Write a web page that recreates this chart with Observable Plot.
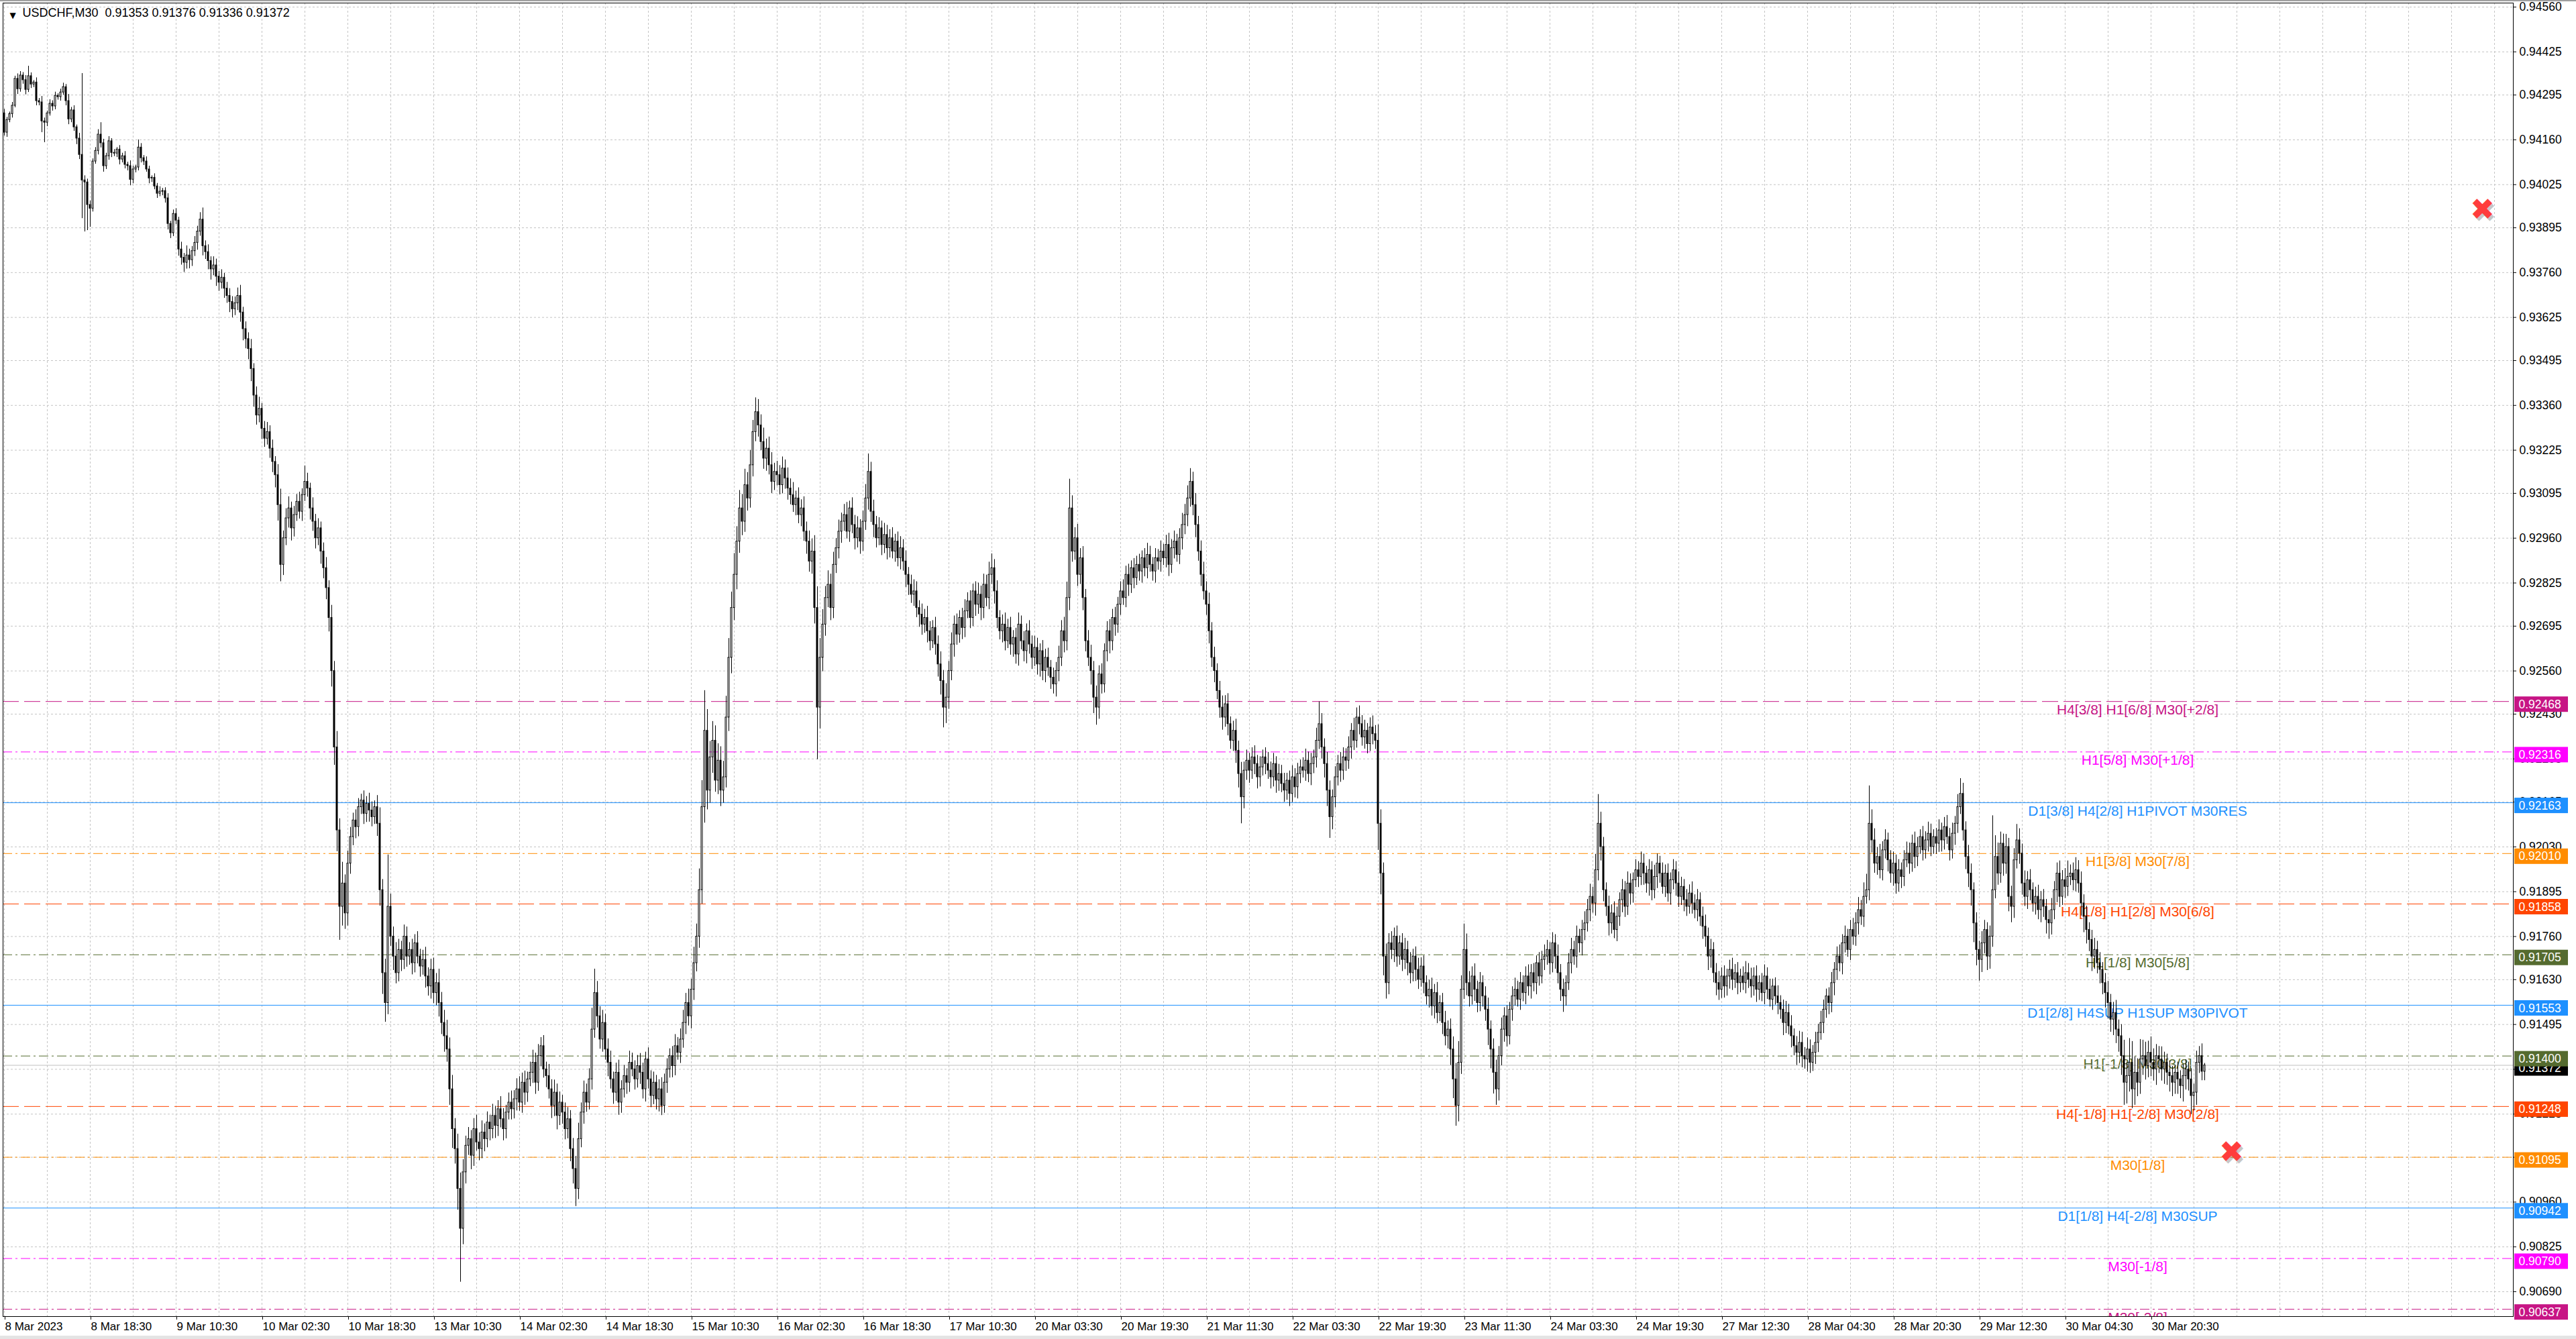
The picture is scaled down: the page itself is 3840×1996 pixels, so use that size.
<!DOCTYPE html>
<html><head><meta charset="utf-8">
<script src="https://cdn.jsdelivr.net/npm/d3@7"></script>
<script src="https://cdn.jsdelivr.net/npm/@observablehq/plot@0.6"></script>
<style>
html,body{margin:0;padding:0;background:#fff;}
#wrap{position:relative;width:3840px;height:1996px;overflow:hidden;background:#fff;}
#wrap svg{position:absolute;left:0;top:0;}
#topline{position:absolute;left:0;top:0;width:3840px;height:2px;background:#a0a0a0;z-index:2;}
#botline{position:absolute;left:0;top:1991px;width:3840px;height:5px;background:#e4e4e4;z-index:2;}
</style></head>
<body><div id="wrap"><div id="topline"></div><div id="botline"></div></div>
<script>
// ---------------- DATA ----------------
const symbolTitle = "USDCHF,M30  0.91353 0.91376 0.91336 0.91372";
const priceBase = 0.9;          // prices below are in points (0.00001) above this base
const pointSize = 0.00001;
const firstOpen = 4240;

const closes = [
4182,4220,4238,4263,4344,4313,4354,4340,4311,4352,
4327,4333,4277,4273,4216,4212,4240,4269,4261,4293,
4289,4303,4319,4277,4222,4249,4198,4164,4115,4038,
4032,3964,3953,4095,4127,4176,4150,4081,4111,4156,
4121,4119,4131,4101,4111,4085,4081,4040,4071,4077,
4137,4105,4095,4071,4044,4046,4020,3998,4004,4006,
3984,3907,3879,3937,3917,3830,3805,3790,3812,3798,
3825,3850,3884,3920,3840,3822,3795,3770,3782,3748,
3730,3745,3712,3690,3672,3650,3668,3690,3640,3590,
3560,3530,3470,3390,3330,3350,3290,3260,3280,3230,
3190,3150,3060,2880,2960,3020,3050,2990,3030,3070,
3040,3090,3130,3110,3050,3010,2960,2990,2920,2870,
2810,2720,2560,2330,2080,1850,1920,1830,1980,2060,
2110,2090,2150,2170,2130,2160,2140,2120,2150,2100,
1900,1650,1560,1850,1760,1700,1650,1720,1690,1760,
1700,1720,1680,1740,1700,1670,1690,1640,1610,1660,
1590,1620,1560,1500,1460,1420,1300,1180,1120,1000,
880,1050,1130,1150,1100,1180,1140,1120,1170,1150,
1200,1180,1220,1190,1240,1210,1180,1230,1260,1240,
1270,1300,1260,1320,1290,1330,1350,1380,1320,1400,
1430,1360,1340,1300,1250,1290,1220,1260,1230,1180,
1210,1120,1060,1000,1150,1230,1290,1260,1330,1480,
1590,1520,1450,1500,1420,1380,1330,1290,1350,1260,
1300,1340,1320,1380,1360,1330,1370,1350,1300,1390,
1330,1280,1320,1270,1300,1250,1320,1360,1400,1370,
1430,1410,1450,1500,1560,1520,1600,1680,1760,1900,
2150,2380,2200,2300,2350,2230,2290,2200,2240,2420,
2600,2750,2850,2950,3050,3010,3120,3080,3180,3280,
3340,3300,3250,3200,3230,3180,3130,3160,3150,3120,
3170,3140,3110,3090,3060,3080,3030,3050,2980,2950,
2890,2920,2750,2450,2600,2700,2780,2820,2750,2880,
2930,2980,3010,3030,2980,3050,3000,2960,2990,2950,
3010,3080,3160,3040,3000,2960,2990,2940,2970,2930,
2960,2920,2950,2900,2930,2890,2850,2820,2790,2800,
2750,2730,2700,2720,2680,2650,2690,2640,2580,2530,
2450,2480,2560,2640,2700,2670,2720,2690,2740,2770,
2720,2800,2760,2790,2750,2820,2780,2850,2870,2800,
2720,2680,2700,2650,2690,2640,2660,2610,2700,2650,
2620,2680,2640,2600,2630,2580,2620,2560,2600,2570,
2540,2520,2560,2600,2680,2650,2780,3050,2920,2960,
2850,2900,2780,2650,2600,2560,2480,2450,2550,2520,
2620,2680,2650,2720,2700,2760,2800,2780,2850,2820,
2870,2840,2880,2860,2900,2870,2910,2880,2860,2900,
2890,2920,2900,2940,2880,2930,2950,2910,2960,3000,
3030,3080,3130,3060,3000,2920,2850,2800,2760,2680,
2600,2560,2500,2450,2420,2460,2400,2350,2380,2320,
2250,2180,2260,2290,2260,2300,2280,2240,2270,2300,
2280,2260,2240,2280,2230,2250,2220,2200,2230,2190,
2240,2210,2250,2270,2260,2290,2250,2280,2300,2350,
2400,2330,2280,2200,2120,2180,2240,2280,2260,2300,
2290,2330,2380,2350,2420,2400,2360,2380,2340,2390,
2370,2350,2100,1950,1700,1620,1740,1720,1760,1700,
1740,1690,1720,1680,1650,1700,1660,1630,1670,1620,
1580,1600,1550,1590,1530,1560,1500,1460,1480,1420,
1330,1250,1380,1600,1720,1620,1580,1640,1600,1560,
1620,1580,1540,1480,1420,1350,1300,1400,1480,1520,
1460,1540,1580,1600,1570,1620,1590,1640,1610,1650,
1620,1680,1640,1690,1700,1720,1680,1740,1700,1650,
1600,1580,1620,1680,1720,1700,1760,1740,1780,1800,
1840,1880,1860,1960,2100,2030,1900,1850,1800,1830,
1780,1820,1870,1900,1850,1920,1890,1930,1960,1940,
1980,1950,1920,1960,1900,1940,1980,1950,1910,1950,
1890,1930,1960,1920,1880,1910,1870,1850,1890,1860,
1840,1870,1820,1790,1760,1700,1720,1650,1620,1600,
1640,1610,1640,1660,1630,1650,1620,1640,1620,1650,
1630,1610,1640,1600,1620,1590,1640,1600,1570,1610,
1580,1560,1540,1500,1530,1490,1460,1430,1410,1440,
1400,1390,1420,1380,1410,1440,1470,1500,1540,1580,
1560,1620,1660,1700,1680,1740,1760,1720,1780,1760,
1800,1840,1820,1880,1900,2100,2050,1980,2000,1960,
2020,2050,1990,1950,1980,1920,1960,1940,1990,2010,
1980,2040,2000,2030,2060,2020,2050,2070,2030,2060,
2040,2080,2050,2090,2060,2020,2070,2100,2150,2190,
2080,2000,1950,1900,1800,1720,1690,1740,1780,1700,
1760,1900,2000,1950,2040,1980,2030,1880,1850,1990,
2050,2010,1920,1880,1930,1900,1860,1880,1840,1870,
1850,1810,1800,1840,1900,1950,1880,1930,1910,1940,
1950,1930,1960,1920,1860,1820,1780,1750,1700,1720,
1680,1660,1620,1590,1560,1510,1530,1480,1460,1400,
1320,1340,1380,1300,1350,1320,1390,1400,1370,1410,
1380,1360,1400,1390,1360,1380,1350,1340,1320,1350,
1330,1310,1340,1360,1330,1280,1290,1380,1400,1353,
1372
];

const wickUp = [
12,8,6,10,8,15,12,9,14,30,
10,6,14,8,18,10,7,12,9,11,
6,10,12,8,20,9,14,7,16,245,
14,10,12,8,10,15,36,12,9,14,
8,10,6,12,9,14,8,16,10,7,
23,12,8,14,10,6,12,9,15,8,
10,14,8,12,16,10,14,8,18,12,
9,12,10,13,22,10,14,8,16,12,
10,15,8,12,14,10,12,15,20,10,
14,12,18,10,16,22,10,14,18,12,
16,10,20,30,14,18,22,12,16,14,
18,12,30,16,10,20,14,18,12,16,
20,14,24,18,30,22,40,16,24,18,
14,20,16,12,18,14,20,16,12,22,
30,20,26,156,24,18,26,20,16,22,
18,14,20,16,22,14,18,24,16,20,
22,18,26,20,24,30,22,26,20,28,
30,24,18,22,16,20,26,18,22,16,
20,14,22,18,16,24,20,14,18,22,
16,20,24,18,22,14,20,24,18,22,
16,20,14,22,18,24,16,20,14,18,
22,16,20,24,30,18,22,16,20,40,
45,22,18,24,16,20,22,14,18,24,
16,20,14,22,18,16,20,24,18,14,
22,16,20,14,18,22,16,20,14,18,
22,16,20,24,18,26,20,30,24,40,
50,121,40,30,36,28,32,26,30,40,
36,30,40,28,34,26,30,24,28,22,
27,24,20,26,18,22,24,16,20,18,
22,16,20,18,24,14,20,16,22,18,
20,24,30,40,36,28,22,26,20,24,
18,22,16,20,24,14,20,18,22,16,
20,26,34,18,22,16,20,14,22,18,
16,20,14,18,22,16,20,14,18,22,
18,14,20,16,22,18,14,20,16,24,
20,26,18,22,16,20,14,18,22,16,
20,14,18,22,16,20,18,24,27,16,
20,14,18,22,16,20,14,18,22,16,
18,14,20,16,22,18,14,20,16,18,
14,18,16,22,20,26,30,55,24,20,
26,18,22,16,20,24,18,22,16,20,
14,18,22,16,20,14,18,22,16,20,
14,18,16,20,14,18,22,16,14,18,
16,20,14,18,22,16,20,14,18,22,
20,24,25,18,22,16,20,24,18,22,
16,20,14,18,22,16,20,14,18,22,
18,22,16,20,14,18,22,16,20,14,
18,22,16,20,14,18,16,20,14,18,
22,16,20,14,18,22,16,20,14,24,
42,20,16,22,18,14,20,16,22,18,
16,20,14,24,18,22,16,20,14,18,
22,16,30,26,20,24,18,22,16,20,
14,18,22,16,20,14,18,22,16,20,
14,18,22,16,20,14,18,22,16,20,
24,30,40,26,78,30,22,18,24,16,
20,14,18,22,16,20,24,18,22,16,
20,14,18,22,16,20,14,18,22,16,
18,14,20,16,22,18,14,20,16,22,
16,20,14,18,22,16,20,14,18,22,
20,24,18,30,55,22,18,14,20,16,
22,18,14,20,16,22,18,14,20,16,
22,18,14,20,16,22,18,14,20,16,
18,14,20,16,22,18,14,20,16,22,
16,20,14,18,22,16,20,14,18,22,
16,20,14,18,22,16,20,14,18,22,
18,22,16,20,14,18,22,16,20,14,
16,20,14,18,22,16,20,14,18,22,
20,16,22,18,14,20,16,22,18,14,
16,20,14,18,22,16,20,14,18,22,
20,24,18,26,30,114,26,22,18,24,
16,20,14,18,22,16,20,14,18,22,
20,16,22,18,14,20,16,22,18,14,
16,20,14,18,22,16,20,14,24,29,
20,16,22,18,14,20,16,22,18,14,
20,224,40,26,22,18,24,16,20,22,
30,22,18,24,16,20,14,18,22,16,
20,14,18,22,16,20,24,18,22,30,
16,20,24,18,22,16,20,14,18,22,
16,20,14,18,22,16,20,24,18,22,
30,26,73,40,30,26,60,30,26,22,
30,26,22,18,24,20,16,22,18,14,
20,16,22,18,14,20,16,22,18,23,
4
];

const wickDown = [
10,14,8,12,6,16,9,12,15,8,
12,9,14,10,34,60,12,8,14,10,
9,12,8,14,16,10,12,18,14,115,
149,77,56,10,8,12,14,18,10,12,
14,9,12,16,10,12,14,18,12,10,
10,14,12,8,16,12,10,14,9,12,
14,18,16,10,12,20,14,18,12,16,
12,10,14,9,18,14,16,20,12,18,
16,12,18,14,20,16,12,14,18,22,
18,20,24,22,18,14,20,16,12,18,
20,24,30,32,20,14,18,24,16,12,
14,18,12,16,22,18,20,14,24,20,
22,26,30,34,40,101,36,30,24,20,
16,22,18,14,20,16,22,18,14,24,
30,40,36,22,18,26,20,16,22,18,
20,16,22,18,14,20,16,22,18,24,
20,24,26,22,30,24,30,36,28,40,
161,30,22,18,26,20,16,22,18,24,
16,22,18,24,20,16,22,18,14,20,
18,22,16,20,24,18,14,20,22,16,
20,16,22,18,24,20,26,18,22,20,
18,24,28,33,20,16,22,18,14,20,
16,22,18,24,20,26,18,22,16,24,
20,16,22,18,14,20,16,22,18,24,
18,22,16,20,24,18,14,20,16,22,
18,14,20,16,22,18,24,20,16,22,
26,30,36,24,30,22,26,30,24,20,
26,30,24,28,22,26,20,24,18,22,
18,22,16,20,24,18,22,16,20,18,
16,20,22,18,14,20,16,22,18,24,
20,24,30,157,40,26,22,18,24,20,
16,20,22,18,14,20,16,22,18,24,
18,16,22,20,24,18,14,20,16,22,
18,14,20,16,22,18,24,20,16,22,
18,24,20,16,22,18,14,20,24,26,
38,30,22,18,24,20,16,22,18,14,
20,16,22,18,24,20,16,22,18,24,
20,16,22,18,14,20,24,18,22,16,
20,24,18,22,16,20,24,18,22,16,
22,18,24,20,16,22,18,24,20,16,
22,18,24,20,16,26,30,33,22,18,
16,20,24,18,22,16,20,14,18,22,
16,20,14,18,22,16,20,14,18,22,
16,20,14,18,22,16,20,14,18,22,
18,22,16,20,24,18,22,16,20,24,
18,22,16,20,24,18,22,16,20,24,
26,50,22,18,24,16,20,22,18,16,
20,16,22,18,24,20,16,22,18,24,
16,20,22,18,14,20,16,22,18,20,
16,22,26,30,40,24,20,16,22,18,
20,16,22,18,14,20,16,22,18,14,
20,16,50,40,36,30,22,18,24,20,
16,22,18,24,20,16,22,18,14,20,
16,22,18,24,20,16,22,18,24,30,
36,61,30,22,18,24,20,16,22,18,
16,20,22,30,36,40,30,22,18,24,
20,16,22,18,14,20,16,22,18,24,
16,22,18,14,20,16,22,18,24,20,
22,30,18,14,20,16,22,18,24,20,
16,22,18,24,20,26,22,18,24,20,
16,22,18,24,20,16,22,18,14,20,
16,22,18,24,20,16,22,18,14,20,
16,22,18,24,20,16,22,18,14,20,
16,22,18,24,20,26,22,18,24,20,
16,22,18,24,20,16,22,18,14,20,
16,22,18,24,20,16,22,18,14,20,
16,22,18,24,20,16,22,18,24,20,
22,18,24,20,16,22,18,14,20,16,
22,18,24,20,16,22,18,14,20,16,
18,22,16,20,14,20,24,18,22,16,
20,16,22,18,24,20,16,22,18,14,
20,16,22,18,14,20,16,22,18,14,
20,16,22,18,14,20,16,22,18,14,
20,24,26,30,36,30,40,24,20,26,
24,20,16,22,18,24,20,28,30,22,
16,20,22,18,24,20,16,22,18,24,
20,26,30,22,18,24,20,16,22,18,
16,20,22,18,24,30,26,22,28,24,
20,26,22,28,30,24,30,26,30,36,
68,40,30,36,30,26,22,30,26,22,
26,22,30,26,22,28,24,30,26,22,
28,24,30,26,22,35,28,24,20,17,
17
];
// my wick readings after bar 66 were taken from the shrunken view and came out too short;
// this calibration factor brings the ordinary wicks back to the thickness seen in the reference
const wickCalibrationFromBar = 66;
const wickCalibration = 1.6;

// x axis (bar index) tick positions and their labels
const xTickBars = [0,32,64,96,128,160,192,224,256,288,320,352,384,416,448,480,512,544,576,608,640,672,704,736,768,800];
const xTickLabels = ["8 Mar 2023","8 Mar 18:30","9 Mar 10:30","10 Mar 02:30","10 Mar 18:30","13 Mar 10:30",
  "14 Mar 02:30","14 Mar 18:30","15 Mar 10:30","16 Mar 02:30","16 Mar 18:30","17 Mar 10:30","20 Mar 03:30",
  "20 Mar 19:30","21 Mar 11:30","22 Mar 03:30","22 Mar 19:30","23 Mar 11:30","24 Mar 03:30","24 Mar 19:30",
  "27 Mar 12:30","28 Mar 04:30","28 Mar 20:30","29 Mar 12:30","30 Mar 04:30","30 Mar 20:30"];

const yTicks = [0.94560,0.94425,0.94295,0.94160,0.94025,0.93895,0.93760,0.93625,0.93495,0.93360,0.93225,
  0.93095,0.92960,0.92825,0.92695,0.92560,0.92430,0.92295,0.92165,0.92030,0.91895,0.91760,0.91630,
  0.91495,0.91360,0.91225,0.91095,0.90960,0.90825,0.90690];

const levelPrices = [0.92468,0.92316,0.92163,0.92010,0.91858,0.91705,0.91553,0.91400,0.91248,0.91095,0.90942,0.90790,0.90637];
const levelNames = ["H4[3/8] H1[6/8] M30[+2/8]","H1[5/8] M30[+1/8]","D1[3/8] H4[2/8] H1PIVOT M30RES",
  "H1[3/8] M30[7/8]","H4[1/8] H1[2/8] M30[6/8]","H1[1/8] M30[5/8]","D1[2/8] H4SUP H1SUP M30PIVOT",
  "H1[-1/8] M30[3/8]","H4[-1/8] H1[-2/8] M30[2/8]","M30[1/8]","D1[1/8] H4[-2/8] M30SUP","M30[-1/8]","M30[-2/8]"];
const levelColors = ["#C71585","#FF00FF","#1E90FF","#FF8C00","#FF4500","#556B2F","#1E90FF",
  "#556B2F","#FF4500","#FF8C00","#1E90FF","#FF00FF","#C71585"];
const levelStyles = ["dash","dashdot","solid","dashdot","dash","dashdot","solid","dashdot","dash","dashdot","solid","dashdot","dashdot"];
const levelLabelBar = 795;

const currentPrice = 0.91372;
const crossBars = [923.5, 830];
const crossPrices = [0.93948, 0.91110];

// ---------------- BUILD ----------------
const W = 3840, H = 1996;
const FONT = "'Liberation Sans', Arial, sans-serif";
const toPrice = p => +(priceBase + p * pointSize).toFixed(5);
const N = Math.min(closes.length, wickUp.length, wickDown.length);
const cal = (w, i) => (i >= wickCalibrationFromBar && w < 60) ? Math.round(w * wickCalibration) : w;
const candles = [];
for (let i = 0; i < N; i++) {
  const o = i === 0 ? firstOpen : closes[i - 1];
  const c = closes[i];
  candles.push({
    i, open: toPrice(o), close: toPrice(c),
    high: toPrice(Math.max(o, c) + cal(wickUp[i], i)),
    low: toPrice(Math.min(o, c) - cal(wickDown[i], i)),
    bull: c >= o
  });
}
const levels = levelPrices.map((p, k) => ({price: p, name: levelNames[k], color: levelColors[k], style: levelStyles[k]}));
const crosses = crossBars.map((b, k) => ({bar: b, price: crossPrices[k]}));
const DASH = {dash: "24,8", dashdot: "14,5,3,5", solid: null};
const gridBars = d3.range(0, 935, 16);
const xMax = 935;

const marks = [
  Plot.ruleY(yTicks, {stroke: "#c4c4c4", strokeWidth: 1, strokeDasharray: "3,3"}),
  Plot.ruleX(gridBars, {stroke: "#c4c4c4", strokeWidth: 1, strokeDasharray: "3,3"}),
];
for (const s of ["dash", "dashdot", "solid"]) {
  const opts = {y: "price", stroke: "color", strokeWidth: 1};
  if (DASH[s]) opts.strokeDasharray = DASH[s];
  marks.push(Plot.ruleY(levels.filter(d => d.style === s), opts));
}
marks.push(
  Plot.text(levels, {x: () => levelLabelBar, y: "price", text: "name", fill: "color", fontSize: 21,
    fontFamily: FONT, textAnchor: "middle", lineAnchor: "top", dy: 4, clip: true}),
  Plot.ruleY([currentPrice], {stroke: "#c0c0c0", strokeWidth: 1}),
  Plot.ruleX(candles, {x: "i", y1: "low", y2: "high", stroke: "black", strokeWidth: 1}),
  Plot.rect(candles, {x1: d => d.i - 0.25, x2: d => d.i + 0.25, y1: "open", y2: "close",
    fill: d => d.bull ? "white" : "black", stroke: "black", strokeWidth: 1}),
  Plot.text(crosses, {x: "bar", y: "price", text: () => "\u2716", fill: "rgba(0,0,0,0.22)", fontSize: 44,
    fontFamily: "DejaVu Sans", dx: 3, dy: 4}),
  Plot.text(crosses, {x: "bar", y: "price", text: () => "\u2716", fill: "#ff3c3c", fontSize: 44,
    fontFamily: "DejaVu Sans"}),
  Plot.frame({stroke: "black", strokeWidth: 1}),
  Plot.axisY(yTicks, {anchor: "right", tickSize: 4, tickPadding: 5, tickFormat: d => d.toFixed(5),
    fontSize: 17.5, fontFamily: FONT, label: null}),
  Plot.axisX(xTickBars, {anchor: "bottom", tickSize: 5, tickPadding: 3,
    tickFormat: d => xTickLabels[xTickBars.indexOf(d)], textAnchor: "start", dx: 1,
    fontSize: 17, fontFamily: FONT, label: null}),
  // current price box (drawn first, partly covered by the level box above it)
  Plot.rect([currentPrice], {x1: () => xMax, x2: () => xMax, y1: d => d, y2: d => d, fill: "black",
    insetLeft: 2, insetRight: -82, insetTop: -7, insetBottom: -16}),
  Plot.text([currentPrice], {x: () => xMax, y: d => d, text: d => d.toFixed(5), fill: "white",
    textAnchor: "start", dx: 8, dy: 4.5, fontSize: 17.5, fontFamily: FONT}),
  Plot.rect(levels, {x1: () => xMax, x2: () => xMax, y1: "price", y2: "price", fill: "color",
    insetLeft: 2, insetRight: -82, insetTop: -7, insetBottom: -16}),
  Plot.text(levels, {x: () => xMax, y: "price", text: d => d.price.toFixed(5), fill: "white",
    textAnchor: "start", dx: 8, dy: 4.5, fontSize: 17.5, fontFamily: FONT}),
  Plot.text(["\u25BC"], {frameAnchor: "top-left", text: d => d, dx: 10, dy: 14, fontSize: 12,
    fontFamily: "DejaVu Sans", fill: "black"}),
  Plot.text([symbolTitle], {frameAnchor: "top-left", text: d => d, dx: 29, dy: 8, lineAnchor: "top",
    textAnchor: "start", fontSize: 18, fontFamily: FONT, fill: "black"})
);

const chart = Plot.plot({
  width: W, height: H,
  marginLeft: 4, marginRight: 94, marginTop: 4, marginBottom: 34,
  x: {type: "linear", domain: [-0.5, 935]},
  y: {type: "linear", domain: [0.906152, 0.945721]},
  color: {type: "identity"},
  style: {background: "white", fontFamily: FONT, color: "black", overflow: "visible"},
  marks
});
document.getElementById("wrap").appendChild(chart);
</script>
</body></html>
